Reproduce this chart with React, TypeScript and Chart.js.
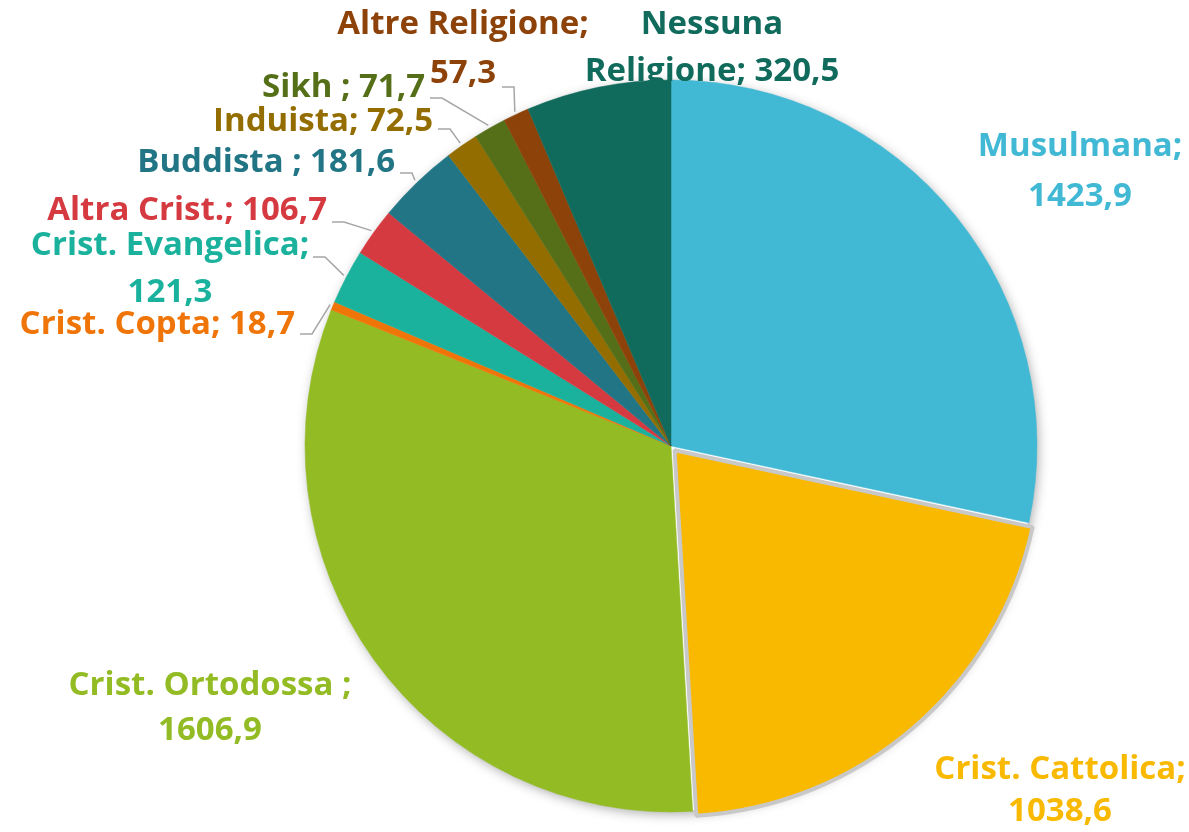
import React, { useEffect, useRef } from "react";
import { Chart, registerables } from "chart.js";

Chart.register(...registerables);

const categories = [
  "Musulmana",
  "Crist. Cattolica",
  "Crist. Ortodossa",
  "Crist. Copta",
  "Crist. Evangelica",
  "Altra Crist.",
  "Buddista",
  "Induista",
  "Sikh",
  "Altre Religione",
  "Nessuna Religione",
];

const values = [1423.9, 1038.6, 1606.9, 18.7, 121.3, 106.7, 181.6, 72.5, 71.7, 57.3, 320.5];

const labelLines = [
  ["Musulmana;", "1423,9"],
  ["Crist. Cattolica;", "1038,6"],
  ["Crist. Ortodossa ;", "1606,9"],
  ["Crist. Copta; 18,7"],
  ["Crist. Evangelica;", "121,3"],
  ["Altra Crist.; 106,7"],
  ["Buddista ; 181,6"],
  ["Induista; 72,5"],
  ["Sikh ; 71,7"],
  ["Altre Religione;", "57,3"],
  ["Nessuna", "Religione; 320,5"],
];

const sliceColors = [
  "#41b8d4",
  "#f9b900",
  "#93bb24",
  "#f07508",
  "#1bb29d",
  "#d63a41",
  "#217585",
  "#946d00",
  "#556f19",
  "#8c4208",
  "#116b5c",
];

// label placement (style only)
const labelLayout: { x: number; ys: number[]; align: CanvasTextAlign; leader?: { x: number; y: number } }[] = [
  { x: 1080, ys: [147, 197], align: "center" },
  { x: 1060, ys: [770, 812], align: "center" },
  { x: 210, ys: [686, 731], align: "center" },
  { x: 295, ys: [325], align: "right", leader: { x: 300, y: 334 } },
  { x: 170, ys: [246, 293], align: "center", leader: { x: 313, y: 257 } },
  { x: 327, ys: [211], align: "right", leader: { x: 332, y: 222 } },
  { x: 395, ys: [163], align: "right", leader: { x: 400, y: 173 } },
  { x: 433, ys: [122], align: "right", leader: { x: 438, y: 129 } },
  { x: 425, ys: [88], align: "right", leader: { x: 430, y: 98 } },
  { x: 463, ys: [25, 74], align: "center", leader: { x: 502, y: 87 } },
  { x: 712, ys: [25, 72], align: "center" },
];

const FONT = "bold 33px 'Open Sans', sans-serif";

const shadowPlugin = {
  id: "pieShadow",
  beforeDatasetsDraw(chart: any) {
    const arc = chart.getDatasetMeta(0).data[0];
    if (!arc) return;
    const { x, y, outerRadius } = arc.getProps(["x", "y", "outerRadius"], true);
    const ctx = chart.ctx;
    ctx.save();
    ctx.shadowColor = "rgba(0,0,0,0.35)";
    ctx.shadowBlur = 12;
    ctx.shadowOffsetX = 2;
    ctx.shadowOffsetY = 3;
    ctx.fillStyle = "#ffffff";
    ctx.beginPath();
    ctx.arc(x, y, outerRadius - 1, 0, Math.PI * 2);
    ctx.fill();
    ctx.restore();
  },
};

const labelPlugin = {
  id: "pieLabels",
  afterDatasetsDraw(chart: any) {
    const ctx = chart.ctx;
    const meta = chart.getDatasetMeta(0);
    ctx.save();
    ctx.font = FONT;
    ctx.textBaseline = "middle";
    meta.data.forEach((arc: any, i: number) => {
      const lay = labelLayout[i];
      const lines = labelLines[i];
      ctx.fillStyle = sliceColors[i];
      ctx.textAlign = lay.align;
      lines.forEach((t, k) => ctx.fillText(t, lay.x, lay.ys[k]));
      if (lay.leader) {
        const { x, y, startAngle, endAngle, outerRadius } = arc.getProps(
          ["x", "y", "startAngle", "endAngle", "outerRadius"],
          true
        );
        const mid = (startAngle + endAngle) / 2;
        const ax = x + Math.cos(mid) * (outerRadius + 3);
        const ay = y + Math.sin(mid) * (outerRadius + 3);
        ctx.strokeStyle = "#a6a6a6";
        ctx.lineWidth = 1.5;
        ctx.beginPath();
        ctx.moveTo(lay.leader.x, lay.leader.y);
        ctx.lineTo(lay.leader.x + 12, lay.leader.y);
        ctx.lineTo(ax, ay);
        ctx.stroke();
      }
    });
    ctx.restore();
  },
};

export default function App() {
  const ref = useRef<HTMLCanvasElement>(null);
  useEffect(() => {
    if (!ref.current) return;
    const chart = new Chart(ref.current, {
      type: "pie",
      data: {
        labels: categories,
        datasets: [
          {
            data: values,
            backgroundColor: sliceColors,
            borderColor: sliceColors.map((c, i) => (i === 1 ? "#c8c8c8" : c)),
            borderWidth: sliceColors.map((_, i) => (i === 1 ? 4 : 0.5)),
            offset: sliceColors.map((_, i) => (i === 1 ? 22 : 0)),
          },
        ],
      },
      options: {
        animation: false,
        responsive: true,
        maintainAspectRatio: false,
        radius: 366,
        layout: { padding: { left: 153, right: 0, top: 60, bottom: 0 } },
        plugins: {
          legend: { display: false },
          tooltip: { enabled: false },
          title: { display: false },
        },
      },
      plugins: [shadowPlugin, labelPlugin],
    });
    return () => chart.destroy();
  }, []);
  return (
    <div style={{ position: "fixed", left: 0, top: 0, width: 1189, height: 832, background: "#ffffff" }}>
      <canvas ref={ref} />
    </div>
  );
}
